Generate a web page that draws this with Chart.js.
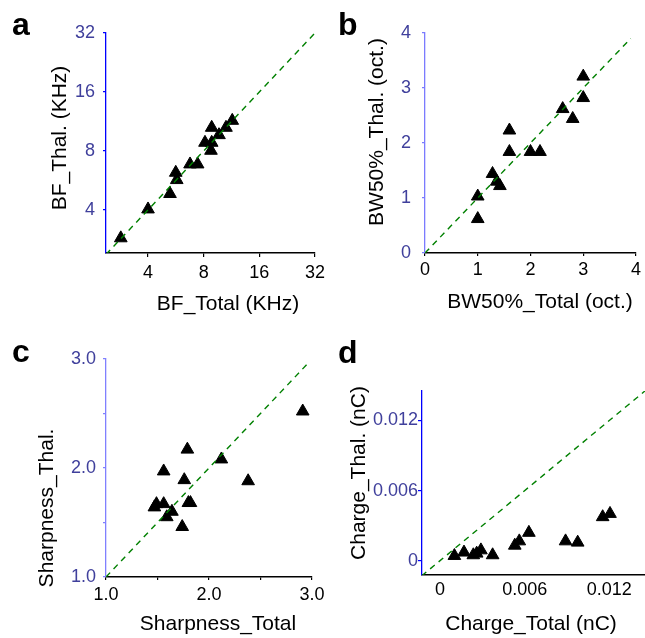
<!DOCTYPE html>
<html><head><meta charset="utf-8">
<script src="https://cdn.jsdelivr.net/npm/chart.js@4/dist/chart.umd.min.js"></script>
<style>
html,body{margin:0;padding:0;background:#fff;}
#wrap{position:relative;width:645px;height:638px;overflow:hidden;background:#fff;}
canvas{position:absolute;left:0;top:0;}
</style></head><body>
<div id="wrap">
<canvas id="ca" width="645" height="638"></canvas>
<canvas id="cb" width="645" height="638"></canvas>
<canvas id="cc" width="645" height="638"></canvas>
<canvas id="cd" width="645" height="638"></canvas>
</div>
<script>
// ---- Panel a: best frequency (kHz)
const bfTotal = [2.85, 4.0, 5.26, 5.65, 5.72, 6.75, 7.42, 8.13, 8.76, 8.84, 8.84, 9.68, 10.56, 11.42];
const bfThal  = [2.87, 4.03, 4.83, 6.2, 5.69, 6.84, 6.84, 8.82, 8.03, 8.82, 10.52, 9.65, 10.52, 11.42];
const bfTicks = [4, 8, 16, 32];
// ---- Panel b: BW50% (octaves)
const bwTotal = [1.0, 1.0, 1.28, 1.36, 1.42, 1.6, 1.6, 2.0, 2.18, 2.61, 2.8, 3.0, 3.0];
const bwThal  = [1.03, 0.62, 1.44, 1.30, 1.22, 2.23, 1.84, 1.84, 1.84, 2.62, 2.44, 3.21, 2.82];
const bwTicks = [0, 1, 2, 3, 4];
// ---- Panel c: sharpness
const shTotal = [1.47, 1.49, 1.56, 1.56, 1.59, 1.64, 1.74, 1.76, 1.79, 1.80, 1.82, 2.12, 2.38, 2.91];
const shThal  = [1.64, 1.67, 1.67, 1.97, 1.55, 1.60, 1.46, 1.89, 2.17, 1.68, 1.68, 2.08, 1.88, 2.52];
const shTicks = [1.0, 1.5, 2.0, 2.5, 3.0];
// ---- Panel d: charge (nC)
const chTotal = [0.00102, 0.0017, 0.00236, 0.0026, 0.0029, 0.00373, 0.0053, 0.00562, 0.0063, 0.0089, 0.00976, 0.01153, 0.01205];
const chThal  = [0.00042, 0.00071, 0.00048, 0.00062, 0.0009, 0.00048, 0.0013, 0.00167, 0.0024, 0.00167, 0.00156, 0.00374, 0.00402];
const chTicks = [0, 0.006, 0.012];
// ---- Text
const panelLetters = ['a', 'b', 'c', 'd'];
const xTitles = ['BF_Total (KHz)', 'BW50%_Total (oct.)', 'Sharpness_Total', 'Charge_Total (nC)'];
const yTitles = ['BF_Thal. (KHz)', 'BW50%_Thal. (oct.)', 'Sharpness_Thal.', 'Charge_Thal. (nC)'];

const FONT = "'Liberation Sans', Arial, sans-serif";
const TICKCOL = '#40409c';

function pts(xs, ys) { return xs.map((x, i) => ({x: x, y: ys[i]})); }

const textPlugin = {
  id: 'panelText',
  afterDraw(chart, args, o) {
    const ctx = chart.ctx;
    ctx.save();
    ctx.fillStyle = '#000';
    ctx.textBaseline = 'alphabetic';
    ctx.font = 'bold 32px ' + FONT;
    ctx.textAlign = 'left';
    ctx.fillText(o.letter, o.lx, o.ly);
    ctx.font = '21px ' + FONT;
    ctx.textAlign = 'center';
    ctx.fillText(o.xTitle, o.xtx, o.xty);
    ctx.translate(o.ytx, o.yty);
    ctx.rotate(-Math.PI / 2);
    ctx.fillText(o.yTitle, 0, 0);
    ctx.restore();
  }
};

function makePanel(id, p) {
  const XH = 40;
  const a = p.area;
  const fmt = p.fmt || (v => String(v));
  new Chart(document.getElementById(id), {
    type: 'scatter',
    data: { datasets: [
      { data: [{x: p.diag[0], y: p.diag[0]}, {x: p.diag[1], y: p.diag[1]}], showLine: true,
        borderColor: '#008000', borderWidth: 1.4, borderDash: [6, 5], pointRadius: 0, clip: 0, order: 0 },
      { data: pts(p.xs, p.ys), pointStyle: 'triangle', pointRadius: 7.3,
        backgroundColor: '#000', borderColor: '#000', borderWidth: 1, order: 1 }
    ]},
    options: {
      responsive: false, animation: false, events: [],
      layout: { autoPadding: false, padding: { left: 0, top: a.t, right: 645 - a.r, bottom: 638 - a.b - XH } },
      plugins: { legend: {display: false}, tooltip: {enabled: false}, panelText: p.text },
      scales: {
        x: {
          type: p.type, min: p.xmin, max: p.xmax,
          afterBuildTicks: s => { s.ticks = p.ticks.map(v => ({value: v})); },
          afterFit: s => { s.height = XH; },
          ticks: { autoSkip: false, maxRotation: 0, padding: p.xpad, color: '#000',
                   font: {family: FONT, size: 18}, callback: fmt },
          grid: { drawOnChartArea: false, drawTicks: p.xTickLen > 0, tickLength: p.xTickLen, color: '#000', lineWidth: 1.2 },
          border: { display: true, color: '#000', width: 1.5 }
        },
        y: {
          type: p.type, min: p.ymin, max: p.ymax,
          afterBuildTicks: s => { s.ticks = p.ticks.map(v => ({value: v})); },
          afterFit: s => { s.width = a.l; },
          ticks: { autoSkip: false, padding: p.ypad, color: TICKCOL,
                   font: {family: FONT, size: 18}, callback: fmt },
          grid: { drawOnChartArea: false, tickLength: p.yTickLen, color: p.ycol, lineWidth: 1.2 },
          border: { display: true, color: p.ycol, width: 1.3 }
        }
      }
    },
    plugins: [textPlugin]
  });
}

makePanel('ca', {
  type: 'logarithmic', area: {l: 106, t: 33, r: 315, b: 253},
  xmin: 2.37, xmax: 32, ymin: 2.41, ymax: 32, ticks: bfTicks, diag: [2.37, 32],
  xs: bfTotal, ys: bfThal, ycol: '#0000ff', xpad: 5, xTickLen: 4, ypad: 8, yTickLen: 3,
  text: {letter: panelLetters[0], lx: 12, ly: 35, xTitle: xTitles[0], xtx: 228, xty: 310, yTitle: yTitles[0], ytx: 66, yty: 138}
});
makePanel('cb', {
  type: 'linear', area: {l: 425, t: 33, r: 636, b: 253},
  xmin: 0, xmax: 4, ymin: 0, ymax: 4, ticks: bwTicks, diag: [0, 3.9],
  xs: bwTotal, ys: bwThal, ycol: '#7b7bff', xpad: 3, xTickLen: 3, ypad: 11, yTickLen: 3,
  text: {letter: panelLetters[1], lx: 338, ly: 35, xTitle: xTitles[1], xtx: 540, xty: 308, yTitle: yTitles[1], ytx: 383, yty: 132}
});
makePanel('cc', {
  type: 'linear', area: {l: 106, t: 359, r: 312, b: 577},
  xmin: 1, xmax: 3, ymin: 1, ymax: 3, ticks: shTicks, diag: [1, 2.96],
  fmt: v => (Math.abs(v - Math.round(v)) < 1e-9 ? v.toFixed(1) : ''),
  xs: shTotal, ys: shThal, ycol: '#8080ff', xpad: 4.5, xTickLen: 3, ypad: 7, yTickLen: 3,
  text: {letter: panelLetters[2], lx: 12, ly: 362, xTitle: xTitles[2], xtx: 218, xty: 630, yTitle: yTitles[2], ytx: 53, yty: 508}
});
makePanel('cd', {
  type: 'linear', area: {l: 422, t: 391, r: 645, b: 575},
  xmin: -0.001276, xmax: 0.01453, ymin: -0.001224, ymax: 0.014525, ticks: chTicks, diag: [-0.0013, 0.0146],
  fmt: v => (v === 0 ? '0' : v.toFixed(3)),
  xs: chTotal, ys: chThal, ycol: '#0000ff', xpad: 4, xTickLen: 0, ypad: 0, yTickLen: 4,
  text: {letter: panelLetters[3], lx: 338, ly: 363, xTitle: xTitles[3], xtx: 531, xty: 630, yTitle: yTitles[3], ytx: 365, yty: 473}
});
</script>
</body></html>
